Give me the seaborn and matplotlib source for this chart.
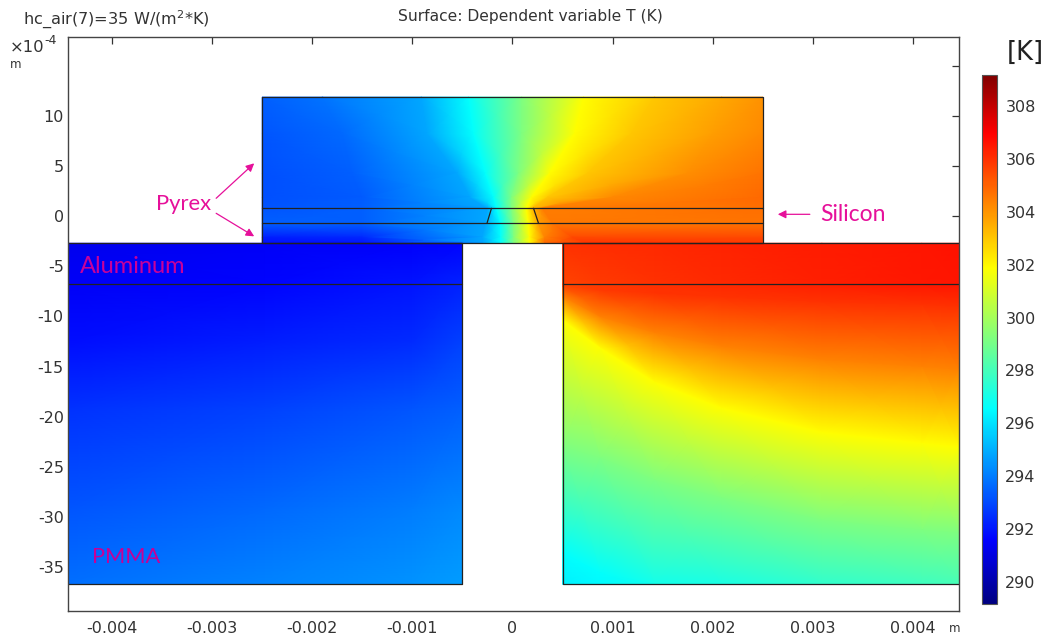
"""Temperature surface of the heated/cooled blocks, rebuilt from isotherms read off the picture."""
import numpy as np
import matplotlib
matplotlib.use("Agg")
import matplotlib.pyplot as plt
from matplotlib.colors import LinearSegmentedColormap, Normalize
import seaborn as sns

# x in mm, y in units of 1e-4 m
X_LIM = (-4.44, 4.46)
Y_LIM = (-39.4, 17.9)
T_LIM = (289.17, 309.17)

X_TICKS = [-4, -3, -2, -1, 0, 1, 2, 3, 4]
X_LABELS = ["-0.004", "-0.003", "-0.002", "-0.001", "0", "0.001", "0.002", "0.003", "0.004"]
Y_TICKS = [-35, -30, -25, -20, -15, -10, -5, 0, 5, 10, 15]
Y_LABELS = ["-35", "-30", "-25", "-20", "-15", "-10", "-5", "0", "5", "10", ""]
CBAR_TICKS = [290, 292, 294, 296, 298, 300, 302, 304, 306, 308]

# Rainbow colour table of the plot
RAINBOW = [
    (0.0, "#000080"), (0.12, "#0000ff"), (0.37, "#00ffff"),
    (0.635, "#ffff00"), (0.89, "#ff0000"), (1.0, "#800000"),
]

# Upper block: each column follows one isotherm
TOP_Y = [11.9, 8.28, 4.29, 1.9, 0.8, -0.7, -2.1, -2.69]
TOP_X = [
    [-2.5, -1.9, -0.91, -0.44, 0.09, 0.71, 1.42, 2.09, 2.5],
    [-2.5, -1.7, -0.85, -0.39, 0.09, 0.62, 1.19, 2.0, 2.5],
    [-2.5, -1.6, -0.55, -0.27, 0.06, 0.37, 0.75, 1.75, 2.5],
    [-2.5, -1.5, -0.42, -0.19, -0.01, 0.19, 0.35, 1.0, 2.5],
    [-2.5, -1.5, -0.25, -0.16, -0.01, 0.14, 0.2, 0.3, 2.5],
    [-2.5, -1.5, -0.27, -0.12, 0.01, 0.16, 0.26, 0.4, 2.5],
    [-2.5, -1.5, -0.3, -0.12, 0.01, 0.17, 0.32, 0.6, 2.5],
    [-2.5, -1.5, -0.29, -0.12, 0.01, 0.17, 0.32, 0.75, 2.5],
]
TOP_T = [
    [293.45, 293.85, 294.85, 296.6, 299.2, 301.9, 302.96, 303.6, 304.03],
    [293.25, 293.65, 294.85, 296.6, 299.2, 301.9, 302.96, 303.81, 304.24],
    [293.15, 293.45, 294.85, 296.6, 299.2, 301.9, 302.96, 304.13, 304.66],
    [293.15, 293.35, 294.85, 296.6, 299.2, 301.9, 302.96, 304.24, 304.85],
    [293.25, 293.45, 294.85, 296.6, 299.2, 301.9, 303.28, 304.45, 304.75],
    [293.45, 293.45, 294.85, 296.6, 299.2, 301.9, 303.81, 304.56, 304.66],
    [292.15, 292.35, 294.85, 296.6, 299.2, 301.9, 304.34, 305.51, 305.51],
    [291.85, 291.95, 294.85, 296.6, 299.2, 301.9, 304.88, 305.94, 305.83],
]

# Lower left block: plain grid
LEFT_X = [-4.44, -2.47, -1.0, -0.5]
LEFT_Y = [-2.69, -6.79, -12.6, -19.2, -29.2, -36.73]
LEFT_T = [
    [291.25, 291.45, 291.55, 291.65],
    [291.45, 291.65, 291.95, 292.25],
    [291.85, 292.15, 292.45, 292.85],
    [292.55, 292.85, 293.25, 293.45],
    [293.25, 293.65, 294.05, 294.25],
    [293.75, 294.15, 294.45, 294.65],
]

# Lower right block: each row follows one isotherm
RIGHT_X = [0.5, 0.875, 1.42, 2.09, 3.09, 4.09, 4.46]
RIGHT_Y = [
    [-2.69] * 7,
    [-6.79] * 7,
    [-6.99, -7.39, -7.68, -8.08, -8.58, -8.88, -9.08],
    [-8.08, -10.08, -11.68, -13.07, -14.37, -15.07, -15.37],
    [-10.38, -13.17, -16.57, -19.16, -21.56, -22.65, -23.05],
    [-23.05, -24.15, -26.35, -28.14, -30.34, -31.34, -31.64],
    [-33.63, -35.63, -36.73, -36.73, -36.73, -36.73, -36.73],
    [-36.73] * 7,
]
RIGHT_T = [
    [306.0, 306.05, 306.15, 306.25, 306.4, 306.55, 306.6],
    [305.6, 305.8, 306.0, 306.15, 306.35, 306.5, 306.55],
    [305.5, 305.8, 305.94, 305.94, 305.94, 305.94, 305.94],
    [304.34, 304.34, 304.34, 304.34, 304.34, 304.34, 304.34],
    [301.9, 301.9, 301.9, 301.9, 301.9, 301.9, 301.9],
    [299.2, 299.2, 299.2, 299.2, 299.2, 299.2, 299.2],
    [296.6, 296.6, 296.95, 297.1, 297.6, 297.85, 298.0],
    [296.3, 296.5, 296.95, 297.1, 297.6, 297.85, 298.0],
]

# Geometry edges, as (x list, y list)
EDGES = [
    ([-2.5, -2.5, 2.5, 2.5, -2.5], [-2.69, 11.9, 11.9, -2.69, -2.69]),
    ([-2.5, 2.5], [0.8, 0.8]),
    ([-2.5, 2.5], [-0.7, -0.7]),
    ([-0.21, -0.255], [0.8, -0.7]),
    ([0.21, 0.26], [0.8, -0.7]),
    ([-4.44, -0.5, -0.5, -4.44], [-2.69, -2.69, -36.73, -36.73]),
    ([4.46, 0.5, 0.5, 4.46], [-2.69, -2.69, -36.73, -36.73]),
    ([-4.44, -0.5], [-6.79, -6.79]),
    ([0.5, 4.46], [-6.79, -6.79]),
]

PINK = "#e6109a"
W, H = 1049, 639


def draw_surface(ax, x, y, t, cmap, norm):
    # gouraud keeps the surface smooth between the values
    return ax.pcolormesh(x, y, np.array(t), shading="gouraud", cmap=cmap, norm=norm, rasterized=True)


def main():
    sns.set_style("white")
    plt.rcParams["axes.unicode_minus"] = False
    plt.rcParams["font.family"] = ["DejaVu Sans"]
    dark = "#333333"

    fig = plt.figure(figsize=(W / 100, H / 100), dpi=100)
    ax = fig.add_axes([68 / W, (H - 611) / H, (959 - 68) / W, (611 - 37) / H])
    cax = fig.add_axes([982 / W, (H - 604) / H, 15 / W, (604 - 75) / H])

    cmap = LinearSegmentedColormap.from_list("rainbow_t", RAINBOW, N=512)
    norm = Normalize(*T_LIM)

    top_y = np.repeat(np.array(TOP_Y)[:, None], len(TOP_X[0]), axis=1)
    mesh = draw_surface(ax, np.array(TOP_X), top_y, TOP_T, cmap, norm)
    lx, ly = np.meshgrid(LEFT_X, LEFT_Y)
    draw_surface(ax, lx, ly, LEFT_T, cmap, norm)
    rx = np.repeat(np.array(RIGHT_X)[None, :], len(RIGHT_Y), axis=0)
    draw_surface(ax, rx, np.array(RIGHT_Y), RIGHT_T, cmap, norm)

    for ex, ey in EDGES:
        sns.lineplot(x=ex, y=ey, ax=ax, color="#222222", linewidth=0.9,
                     estimator=None, sort=False, legend=False)

    ax.set_xlim(*X_LIM)
    ax.set_ylim(*Y_LIM)
    ax.set_xticks(X_TICKS, X_LABELS)
    ax.set_yticks(Y_TICKS, Y_LABELS)
    ax.tick_params(direction="in", length=5, width=0.9, color=dark, labelcolor=dark,
                   labelsize=11.5, top=True, right=True)
    ax.tick_params(axis="x", pad=7)
    ax.tick_params(axis="y", pad=3)
    for spine in ax.spines.values():
        spine.set_color("#444444")
        spine.set_linewidth(1.0)

    cbar = fig.colorbar(mesh, cax=cax)
    cbar.set_ticks(CBAR_TICKS)
    cax.tick_params(direction="in", length=2.5, width=0.8, left=True, right=True,
                    color="#222222", labelcolor=dark, labelsize=11.5, pad=6)
    cbar.outline.set_edgecolor("#555555")
    cbar.outline.set_linewidth(0.8)

    fig.text(530 / W, 1 - 16 / H, "Surface: Dependent variable T (K)", ha="center", va="center",
             fontsize=11.15, color=dark)
    fig.text(23 / W, 1 - 20 / H, "hc_air(7)=35 W/(m$^2$*K)", ha="left", va="center",
             fontsize=11.6, color=dark)
    fig.text(10 / W, 1 - 47 / H, "×10", ha="left", va="center", fontsize=11.8, color=dark)
    fig.text(44 / W, 1 - 40 / H, "-4", ha="left", va="center", fontsize=9, color=dark)
    fig.text(10 / W, 1 - 65 / H, "m", ha="left", va="center", fontsize=8.5, color=dark)
    fig.text(949 / W, 1 - 628 / H, "m", ha="left", va="center", fontsize=8.5, color=dark)
    fig.text(1007 / W, 1 - 53 / H, "[K]", ha="left", va="center", fontsize=18.5, color="#222222")

    lato = dict(family="Lato", va="center", ha="left")
    ax.text(-3.56, 1.2, "Pyrex", color=PINK, fontsize=15.8, **lato)
    ax.text(3.07, 0.15, "Silicon", color=PINK, fontsize=16.5, **lato)
    ax.text(-4.32, -5.0, "Aluminum", color="#c8009a", fontsize=17, **lato)
    ax.text(-4.2, -34.0, "PMMA", color="#c80096", fontsize=15.7, **lato)

    arrow = dict(arrowstyle="-|>", color=PINK, lw=0.9, mutation_scale=12, shrinkA=0, shrinkB=0)
    ax.annotate("", xy=(-2.58, 5.29), xytext=(-2.96, 1.8), arrowprops=arrow)
    ax.annotate("", xy=(-2.58, -2.0), xytext=(-2.96, 0.3), arrowprops=arrow)
    ax.annotate("", xy=(2.65, 0.2), xytext=(2.97, 0.2), arrowprops=arrow)

    fig.savefig("out.png", dpi=100)


if __name__ == "__main__":
    main()
